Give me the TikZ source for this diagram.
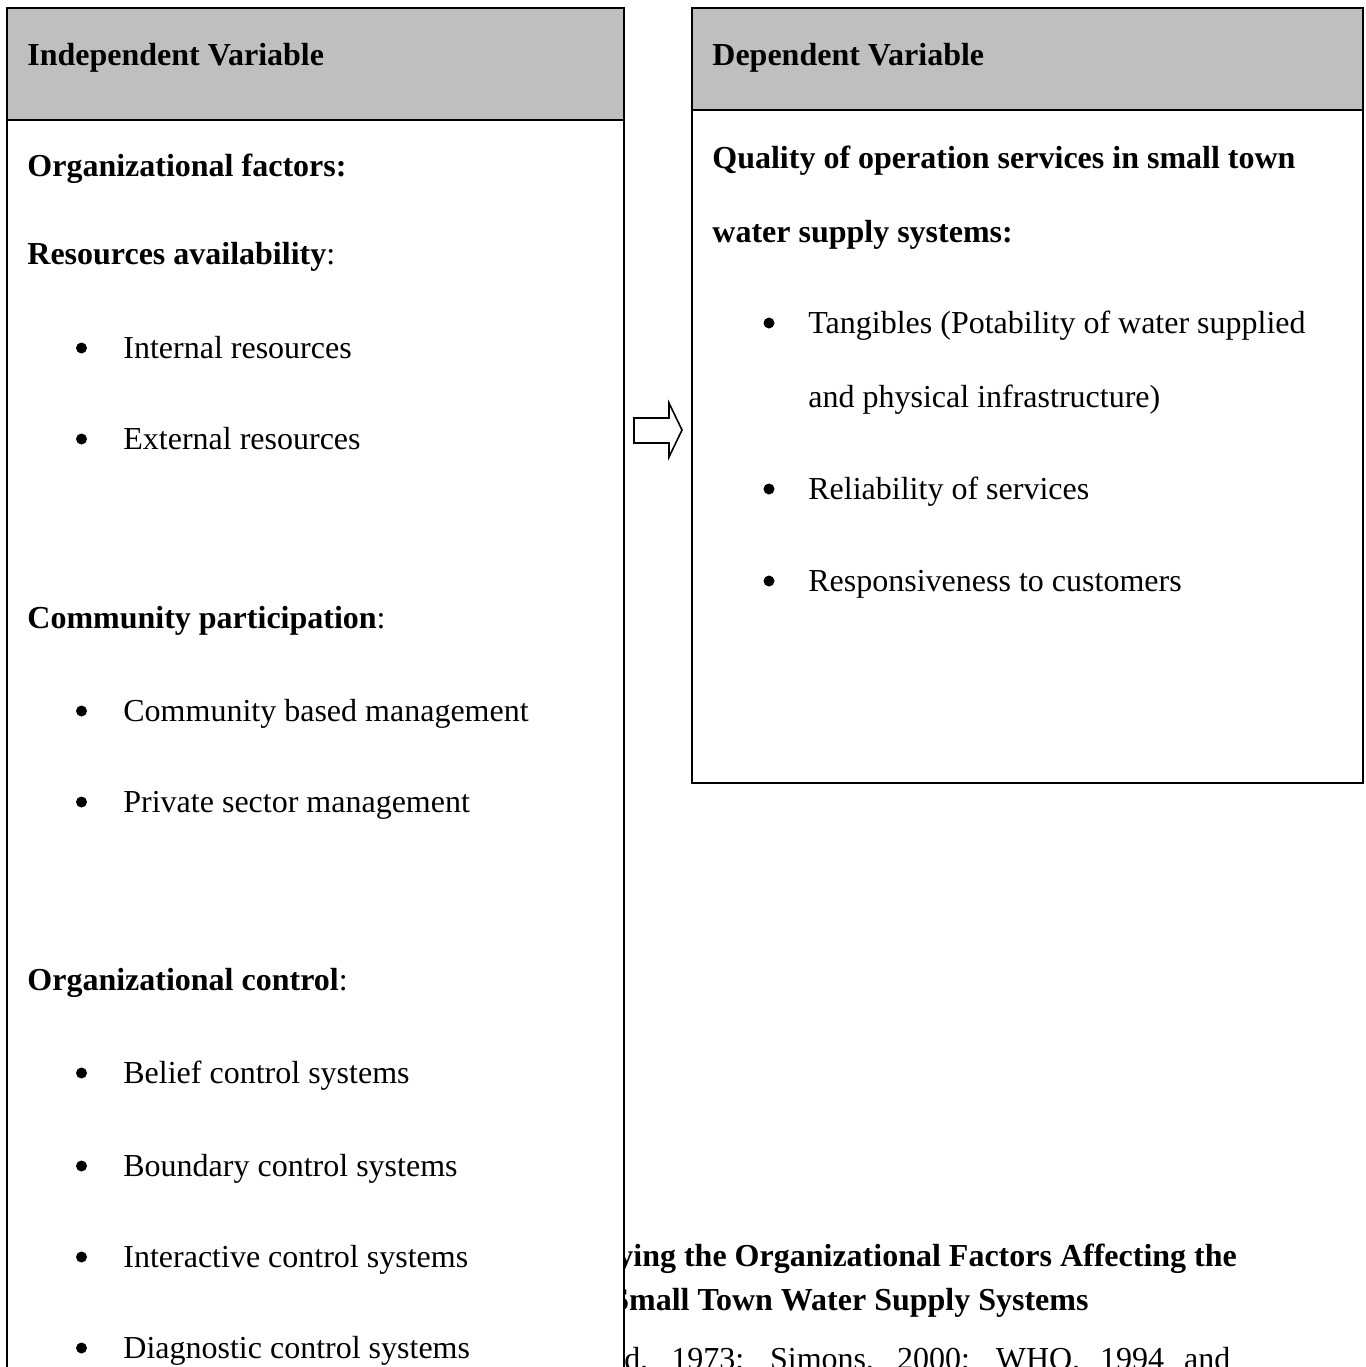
\documentclass[tikz,border=0pt]{standalone}
\usepackage{fontspec}
\setmainfont{Liberation Serif}
\definecolor{hdrgray}{RGB}{191,191,191}
\begin{document}
\begin{tikzpicture}[x=0.5pt,y=-0.5pt,
  txt/.style={anchor=base west,inner sep=0pt,font=\fontsize{16}{19}\selectfont},
  txtb/.style={anchor=base west,inner sep=0pt,font=\bfseries\fontsize{16}{19}\selectfont},
  bul/.style={circle,fill=black,inner sep=0pt,minimum size=5.5pt},
  boxline/.style={draw=black,line width=0.8pt}]
\useasboundingbox (0,0) rectangle (1366,1367);
\clip (0,0) rectangle (1366,1367);
% caption text partly hidden behind the left box
\node[txtb] (cap1) at (617,1266) {ying the Organizational Factors Affecting the};
\node[txtb] (cap2) at (611,1310) {Small Town Water Supply Systems};
\node[txt] (cap3) at (624,1369) {\makebox[303pt][s]{d, 1973; Simons, 2000; WHO, 1994 and}};
% left box
\draw[boxline,fill=white] (7,120) rectangle (624,1420);
\draw[boxline,fill=hdrgray] (7,8) rectangle (624,120);
% right box
\draw[boxline,fill=white] (692,110) rectangle (1363,783);
\draw[boxline,fill=hdrgray] (692,8) rectangle (1363,110);
% block arrow
\coordinate (arrA) at (634,418);
\draw[line width=0.8pt,fill=white] (arrA) -- (669,418) -- (669,403) -- (682,430) -- (669,457) -- (669,443) -- (634,443) -- cycle;
% left texts
\node[txtb] (ivh) at (27,65) {Independent Variable};
\node[txtb] (of) at (27,176) {Organizational factors:};
\node[txt] (ra) at (27,264) {\textbf{Resources availability}:};
\node[bul] (b1) at (81.5,348) {};
\node[txt] (l1) at (123,358) {Internal resources};
\node[bul] (b2) at (81.5,439) {};
\node[txt] (l2) at (123,449) {External resources};
\node[txt] (cp) at (27,628) {\textbf{Community participation}:};
\node[bul] (b3) at (81.5,711) {};
\node[txt] (l3) at (123,721) {Community based management};
\node[bul] (b4) at (81.5,802) {};
\node[txt] (l4) at (123,812) {Private sector management};
\node[txt] (oc) at (27,990) {\textbf{Organizational control}:};
\node[bul] (b5) at (81.5,1073) {};
\node[txt] (l5) at (123,1083) {Belief control systems};
\node[bul] (b6) at (81.5,1166) {};
\node[txt] (l6) at (123,1176) {Boundary control systems};
\node[bul] (b7) at (81.5,1257) {};
\node[txt] (l7) at (123,1267) {Interactive control systems};
\node[bul] (b8) at (81.5,1348) {};
\node[txt] (l8) at (123,1358) {Diagnostic control systems};
% right texts
\node[txtb] (dvh) at (712,65) {Dependent Variable};
\node[txtb] (q1) at (712,168) {Quality of operation services in small town};
\node[txtb] (q2) at (712,242) {water supply systems:};
\node[bul] (r1) at (769,323) {};
\node[txt] (t1) at (808,333) {Tangibles (Potability of water supplied};
\node[txt] (t2) at (808,407) {and physical infrastructure)};
\node[bul] (r2) at (769,489) {};
\node[txt] (t3) at (808,499) {Reliability of services};
\node[bul] (r3) at (769,581) {};
\node[txt] (t4) at (808,591) {Responsiveness to customers};
\end{tikzpicture}
\end{document}
